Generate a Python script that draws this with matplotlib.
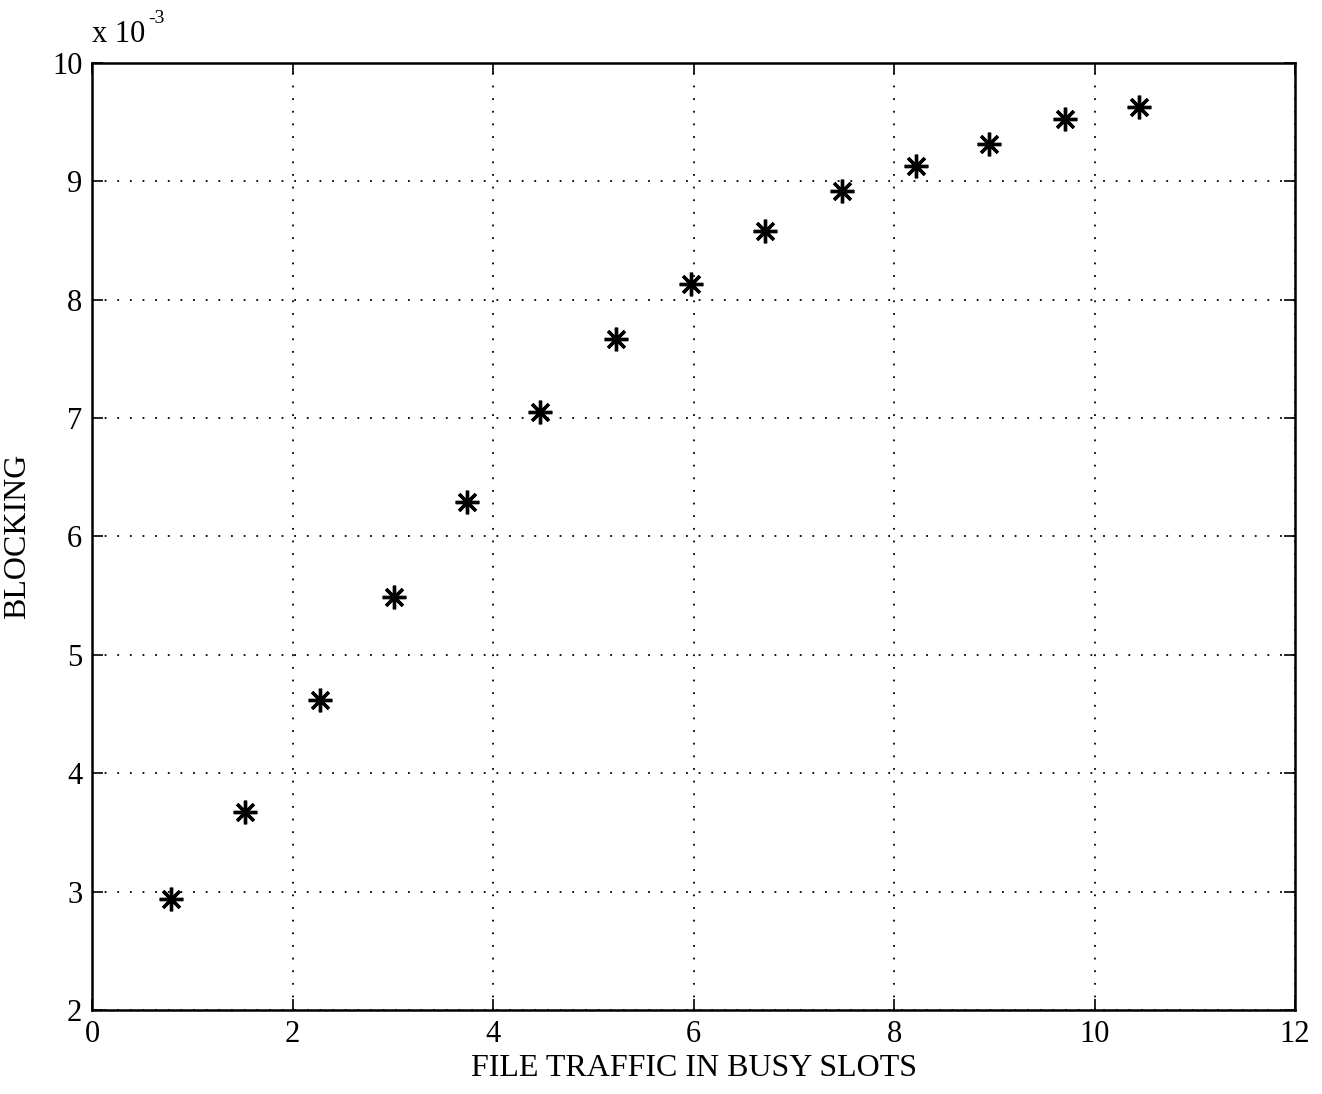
import matplotlib
matplotlib.use('Agg')
import matplotlib.pyplot as plt

# file traffic offered (busy slots) and resulting blocking probability (x 1e-3)
traffic = [0.79, 1.53, 2.27, 3.01, 3.74, 4.47, 5.23, 5.97, 6.71, 7.48, 8.22, 8.95, 9.71, 10.44]
blocking = [2.94, 3.67, 4.62, 5.49, 6.29, 7.05, 7.67, 8.13, 8.58, 8.92, 9.13, 9.32, 9.53, 9.63]

xticks = [0, 2, 4, 6, 8, 10, 12]
yticks = [2, 3, 4, 5, 6, 7, 8, 9, 10]

plt.rcParams['font.family'] = ['Liberation Serif', 'DejaVu Serif']

fig = plt.figure(figsize=(13.22, 10.94), dpi=100)
ax = fig.add_axes([0.0696, 0.0768, 0.91, 0.8656])

ax.plot(traffic, blocking, linestyle='none', marker=(8, 2, 0),
        markersize=17, markeredgewidth=2.4, color='black')

ax.set_xlim(0, 12)
ax.set_ylim(2, 10)
ax.set_xticks(xticks)
ax.set_yticks(yticks)
ax.tick_params(direction='in', length=8, width=1.2, labelsize=22,
               top=True, right=True, pad=7)
ax.grid(True, linestyle=(0, (1, 6)), color='black', linewidth=1.3)
for s in ax.spines.values():
    s.set_linewidth(1.8)

ax.set_xlabel('FILE TRAFFIC IN BUSY SLOTS', fontsize=23, labelpad=4)
ax.set_ylabel('BLOCKING', fontsize=23, labelpad=14)
# exponent label above the y axis
ax.text(0.0, 1.015, 'x 10', transform=ax.transAxes,
        fontsize=22, ha='left', va='bottom')
ax.text(0.0465, 1.038, '-3', transform=ax.transAxes,
        fontsize=14, ha='left', va='bottom')

fig.savefig('out.png', dpi=100)
